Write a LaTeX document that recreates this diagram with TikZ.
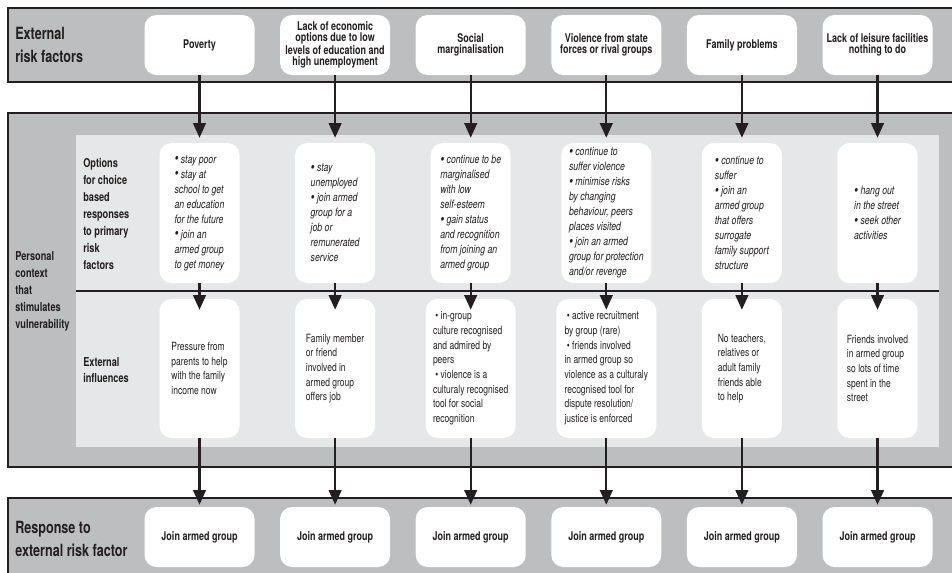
\documentclass[tikz,border=0pt]{standalone}
\usepackage{fontspec}
\usepackage{graphicx}
\setmainfont{TeX Gyre Heros}[FakeStretch=0.75]
\usetikzlibrary{arrows.meta}
\definecolor{bandgray}{RGB}{188,190,192}
\definecolor{innergray}{RGB}{230,231,232}
\definecolor{ink}{RGB}{35,31,32}
\newcommand{\bu}{\raisebox{-0.1ex}{\scalebox{1.3}{\textbullet}}}
\begin{document}
\begin{tikzpicture}[x=0.75pt,y=-0.75pt,
  box/.style={fill=white, rounded corners=9pt, inner sep=0pt, text=ink},
  topbox/.style={box, minimum width=82.5pt, minimum height=45pt, align=center, font=\fontsize{9}{8.2}\selectfont\bfseries},
  optbox/.style={box, minimum width=60pt, minimum height=105pt, align=left, font=\fontsize{8.7}{11.25}\selectfont\itshape},
  extbox/.style={box, minimum width=60pt, minimum height=104.25pt, align=left, font=\fontsize{8.5}{11}\selectfont},
  bandlabel/.style={anchor=west, align=left, inner sep=0pt, text=ink, font=\fontsize{12.6}{17.5}\selectfont\bfseries},
  sidelabel/.style={anchor=west, align=left, inner sep=0pt, text=ink, font=\fontsize{9.2}{12.75}\selectfont\bfseries},
  flow/.style={draw=ink, line width=1.7pt, -{Triangle[width=9.5pt,length=11pt]}},
  bandline/.style={draw=ink, line width=1.1pt}
]
\useasboundingbox (0,0) rectangle (952,572);
% bands
\fill[bandgray] (8,8) rectangle (960,82);
\draw[bandline] (960,8) -- (8,8) -- (8,82) -- (960,82);
\fill[bandgray] (8,113) rectangle (960,467);
\draw[bandline] (960,113) -- (8,113) -- (8,467) -- (960,467);
\fill[innergray] (76,135) rectangle (939,447);
\draw[bandline] (76,291) -- (939,291);
\fill[bandgray] (8,498) rectangle (960,580);
\draw[bandline] (960,498) -- (8,498) -- (8,580);
% band labels
\node[bandlabel] (lab1) at (15,45) {External\\risk factors};
\node[bandlabel] (lab3) at (15,539) {Response to\\external risk factor};
\node[sidelabel] (lab2) at (15,291) {Personal\\context\\that\\stimulates\\vulnerability};
\node[sidelabel] (lab2a) at (83,214) {Options\\for choice\\based\\responses\\to primary\\risk\\factors};
\node[sidelabel, font=\fontsize{9.2}{12}\selectfont\bfseries] (lab2b) at (83,370) {External\\influences};
% top boxes
\node[topbox] (t1) at (199.5,45) {Poverty};
\node[topbox] (t2) at (335.1,45) {Lack of economic\\options due to low\\levels of education and\\high unemployment};
\node[topbox] (t3) at (470.7,45) {Social\\marginalisation};
\node[topbox] (t4) at (606.3,45) {Violence from state\\forces or rival groups};
\node[topbox] (t5) at (741.9,45) {Family problems};
\node[topbox] (t6) at (877.5,45) {Lack of leisure facilities\\nothing to do};
% option boxes
\node[optbox] (o1) at (199.5,213) {\bu{} stay poor\\\bu{} stay at\\school to get\\an education\\for the future\\\bu{} join an\\armed group\\to get money};
\node[optbox] (o2) at (335.1,213) {\bu{} stay\\unemployed\\\bu{} join armed\\group for a\\job or\\remunerated\\service};
\node[optbox] (o3) at (470.7,213) {\bu{} continue to be\\marginalised\\with low\\self-esteem\\\bu{} gain status\\and recognition\\from joining an\\armed group};
\node[optbox, minimum width=67.5pt] (o4) at (606.3,213) {\bu{} continue to\\suffer violence\\\bu{} minimise risks\\by changing\\behaviour, peers\\places visited\\\bu{} join an armed\\group for protection\\and/or revenge};
\node[optbox] (o5) at (741.9,213) {\bu{} continue to\\suffer\\\bu{} join an\\armed group\\that offers\\surrogate\\family support\\structure};
\node[optbox] (o6) at (877.5,213) {\bu{} hang out\\in the street\\\bu{} seek other\\activities};
% external influence boxes
\node[extbox] (e1) at (199.5,368.5) {Pressure from\\parents to help\\with the family\\income now};
\node[extbox] (e2) at (335.1,368.5) {Family member\\or friend\\involved in\\armed group\\offers job};
\node[extbox, minimum width=67.5pt] (e3) at (470.7,368.5) {~\textbullet{} in-group\\culture recognised\\and admired by\\peers\\~\textbullet{} violence is a\\culturaly recognised\\tool for social\\recognition};
\node[extbox, minimum width=75pt] (e4) at (606.3,368.5) {~\textbullet{} active recruitment\\by group (rare)\\~\textbullet{} friends involved\\in armed group so\\violence as a culturaly\\recognised tool for\\dispute resolution/\\justice is enforced};
\node[extbox] (e5) at (741.9,368.5) {No teachers,\\relatives or\\adult family\\friends able\\to help};
\node[extbox] (e6) at (877.5,368.5) {Friends involved\\in armed group\\so lots of time\\spent in the\\street};
% bottom boxes
\foreach \i/\x in {1/199.5,2/335.1,3/470.7,4/606.3,5/741.9,6/877.5}
  \node[topbox] (b\i) at (\x,537) {Join armed group};
% arrows
\foreach \i in {1,...,6}{
  \draw[flow] (t\i.south) -- ([yshift=3.75pt]o\i.north);
  \draw[flow] (o\i.south) -- ([yshift=-8.25pt]e\i.north);
  \draw[flow] (e\i.south) -- ([yshift=1.5pt]b\i.north);
}
\end{tikzpicture}
\end{document}
